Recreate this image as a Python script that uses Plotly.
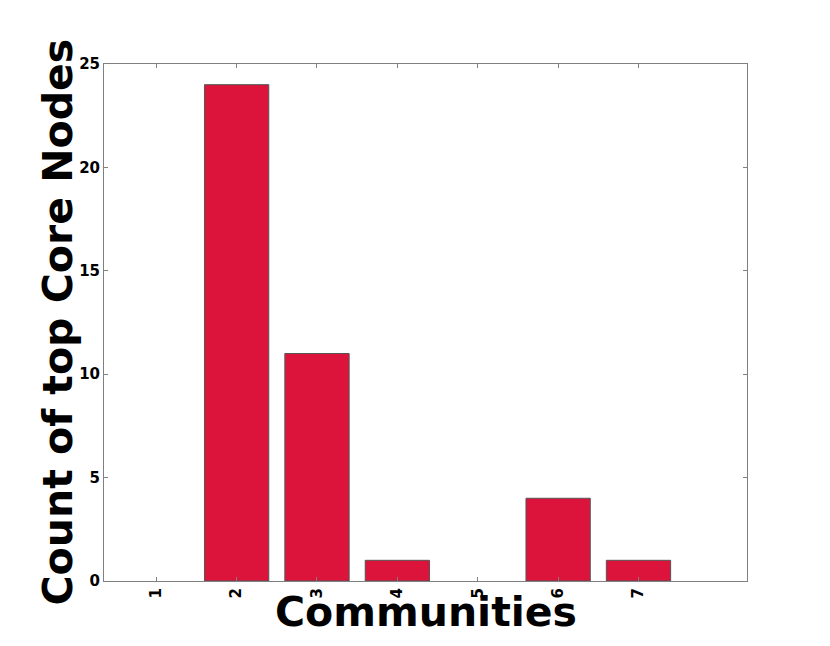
import plotly.graph_objects as go

communities = [1, 2, 3, 4, 5, 6, 7]
tick_labels = ["1", "2", "3", "4", "5", "6", "7"]
counts = [0, 24, 11, 1, 0, 4, 1]

outline_widths = [1 if c > 0 else 0 for c in counts]

fig = go.Figure()
fig.add_trace(go.Bar(
    x=communities, y=counts, width=0.8,
    marker=dict(color="#DC143C", line=dict(color="#555555", width=outline_widths)),
))

font_fam = "DejaVu Sans"
fig.update_layout(
    width=830, height=646,
    margin=dict(l=96, r=91, t=56, b=73),
    paper_bgcolor="white", plot_bgcolor="white",
    showlegend=False,
    font=dict(family=font_fam, color="black"),
    xaxis=dict(
        range=[0.35, 8.35], tickmode="array", tickvals=communities, ticktext=tick_labels,
        tickangle=-90, tickfont=dict(size=15, family=font_fam, weight="bold"),
        showgrid=False, zeroline=False, showline=True, linecolor="#808080", linewidth=1,
        mirror="ticks", ticks="inside", ticklen=4, tickcolor="#808080",
    ),
    yaxis=dict(
        range=[0, 25], tickmode="array", tickvals=[0, 5, 10, 15, 20, 25],
        tickfont=dict(size=15, family=font_fam, weight="bold"),
        showgrid=False, zeroline=False, showline=True, linecolor="#808080", linewidth=1,
        mirror="ticks", ticks="inside", ticklen=4, tickcolor="#808080",
    ),
    annotations=[
        dict(text="Communities", xref="paper", yref="paper", x=0.5, y=0,
             xanchor="center", yanchor="middle", showarrow=False, yshift=-31,
             font=dict(size=41, family=font_fam, weight="bold", color="black")),
        dict(text="Count of top Core Nodes", xref="paper", yref="paper", x=0, y=0.5,
             xanchor="center", yanchor="middle", showarrow=False, textangle=-90,
             xshift=-47,
             font=dict(size=41, family=font_fam, weight="bold", color="black")),
    ],
)

fig.write_html("out.html")
